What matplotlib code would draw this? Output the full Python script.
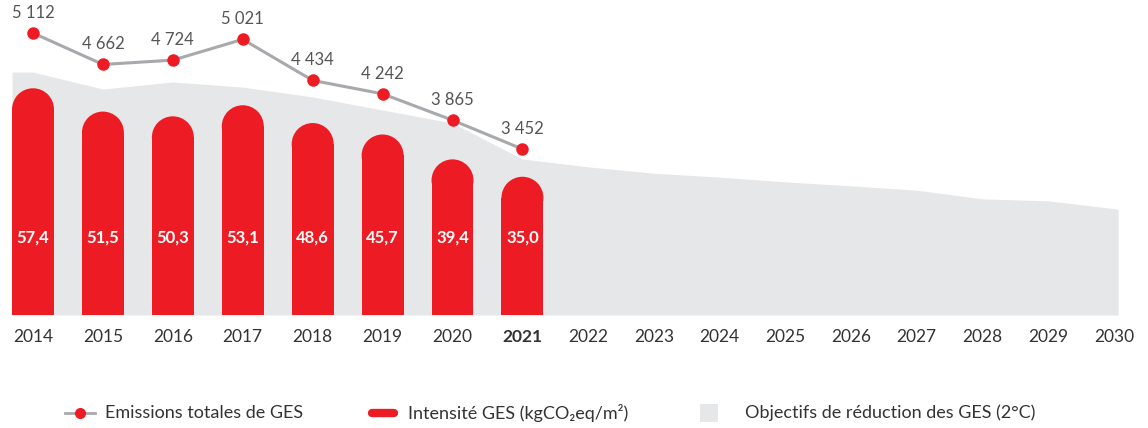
import numpy as np
import matplotlib
matplotlib.use("Agg")
import matplotlib.pyplot as plt
from matplotlib.patches import Rectangle, Ellipse
from matplotlib.lines import Line2D

plt.rcParams['font.family'] = ['Lato', 'DejaVu Sans']

# ---- data ----
years = [2014, 2015, 2016, 2017, 2018, 2019, 2020, 2021,
         2022, 2023, 2024, 2025, 2026, 2027, 2028, 2029, 2030]
hist_years = years[:8]
intensity = [57.4, 51.5, 50.3, 53.1, 48.6, 45.7, 39.4, 35.0]          # kgCO2eq/m2
emissions = [5112, 4662, 4724, 5021, 4434, 4242, 3865, 3452]          # total GHG
intensity_labels = ["57,4", "51,5", "50,3", "53,1", "48,6", "45,7", "39,4", "35,0"]
emission_labels = ["5 112", "4 662", "4 724", "5 021", "4 434", "4 242", "3 865", "3 452"]
target = [61.5, 57.2, 59.0, 57.7, 55.2, 51.9, 48.6, 39.5,
          37.5, 35.9, 34.9, 33.7, 32.7, 31.6, 29.4, 28.9, 26.8]        # 2°C pathway
legend_labels = ["Emissions totales de GES",
                 "Intensité GES (kgCO₂eq/m²)",
                 "Objectifs de réduction des GES (2°C)"]

RED = "#ED1C24"
GREY_AREA = "#E6E7E8"
GREY_LINE = "#A7A9AC"
TEXT = "#333333"

# historical years a little wider apart than projection years
n_hist = len(hist_years)
xpos = np.concatenate([np.arange(n_hist, dtype=float),
                       (n_hist - 1) + np.arange(1, len(years) - n_hist + 1) * 0.94])

W, H = 1148, 428
fig = plt.figure(figsize=(W / 100, H / 100), dpi=100)
ax = fig.add_axes([0, 113 / H, 1, 315 / H])
ax.set_xlim(-0.472, xpos[-1] + 0.487)
ax.set_ylim(0, 315 / 3.95)

bar_w = 0.60
# 2°C target area
xa = np.concatenate([[xpos[0] - bar_w / 2], xpos[:-1], [xpos[-1] + 0.06]])
ya = np.concatenate([[target[0]], target])
ax.fill_between(xa, 0, ya, color=GREY_AREA, lw=0, zorder=1)

# rounded-top bars: cap height in data units that gives a true semicircle
fig.canvas.draw()
px_per_x = ax.transData.transform((1, 0))[0] - ax.transData.transform((0, 0))[0]
px_per_y = ax.transData.transform((0, 1))[1] - ax.transData.transform((0, 0))[1]
cap_h = (bar_w / 2) * px_per_x / px_per_y
for x, v, lab in zip(xpos[:n_hist], intensity, intensity_labels):
    ax.add_patch(Rectangle((x - bar_w / 2, 0), bar_w, v - cap_h,
                           facecolor=RED, lw=0, zorder=2))
    ax.add_patch(Ellipse((x, v - cap_h), bar_w, 2 * cap_h,
                         facecolor=RED, lw=0, zorder=2))
    ax.text(x, 19.7, lab, ha='center', va='center', color='white',
            fontsize=12, fontweight='bold', zorder=3)

ax.set_xticks(xpos, [str(y) for y in years])
ax.tick_params(axis='x', length=0, pad=10, labelsize=12.5, labelcolor=TEXT)
ax.set_yticks([])
for s in ax.spines.values():
    s.set_visible(False)
ax.get_xticklabels()[n_hist - 1].set_fontweight('bold')

# total emissions on a secondary scale
ax2 = ax.twinx()
ax2.set_ylim(1079, 5584)
ax2.set_yticks([])
for s in ax2.spines.values():
    s.set_visible(False)
ax2.plot(xpos[:n_hist], emissions, color=GREY_LINE, lw=2.2, zorder=4)
ax2.plot(xpos[:n_hist], emissions, 'o', color=RED, ms=9, mec='none', zorder=5)
for x, v, lab in zip(xpos[:n_hist], emissions, emission_labels):
    ax2.annotate(lab, (x, v), xytext=(0, 14.5), textcoords='offset points',
                 ha='center', va='center', fontsize=12, color='#555555')

# legend, laid out in figure pixels
def fx(px):
    return px / W

ly = 15 / H
fig.add_artist(Line2D([fx(65), fx(95)], [ly, ly], color=GREY_LINE, lw=2))
fig.add_artist(Line2D([fx(80)], [ly], marker='o', ms=8, color=RED, mec='none'))
fig.add_artist(Line2D([fx(372), fx(394)], [ly, ly], color=RED, lw=6,
                      solid_capstyle='round'))
fig.add_artist(Rectangle((fx(700), (15 - 9) / H), fx(18), 18 / H,
                         facecolor=GREY_AREA, edgecolor='none',
                         transform=fig.transFigure))
for x0, lab in zip([105, 408, 745], legend_labels):
    fig.text(fx(x0), ly, lab, ha='left', va='center', fontsize=13, color=TEXT)

fig.savefig("out.png", dpi=100)
